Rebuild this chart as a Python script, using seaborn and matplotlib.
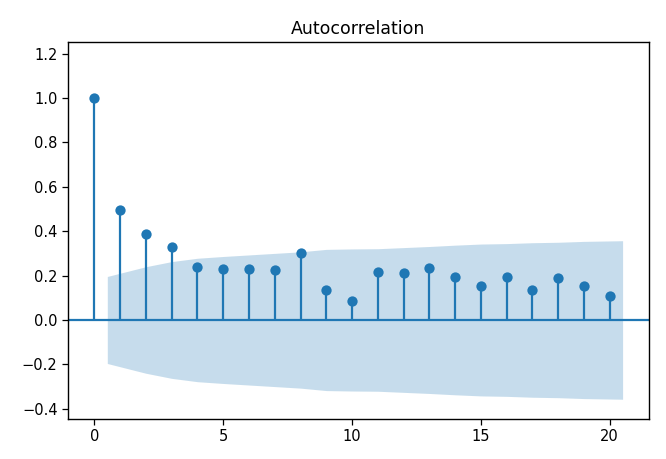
import matplotlib
matplotlib.use("Agg")
import matplotlib.pyplot as plt
import seaborn as sns
import numpy as np
import pandas as pd

# Data
lags = list(range(0, 21))
acf_values = [1.0, 0.495, 0.385, 0.33, 0.24, 0.23, 0.23, 0.225, 0.30, 0.135,
              0.087, 0.217, 0.21, 0.233, 0.195, 0.155, 0.193, 0.133, 0.19, 0.155, 0.11]
# confidence band half-width for lags 1..20
band_halfwidth = [0.196, 0.240, 0.263, 0.278, 0.286, 0.293, 0.300, 0.307, 0.318, 0.320,
                  0.321, 0.326, 0.331, 0.337, 0.342, 0.344, 0.348, 0.350, 0.354, 0.357]
band_x = [0.5] + list(range(2, 20)) + [20.5]
title = "Autocorrelation"
xticks = [0, 5, 10, 15, 20]
yticks = [-0.4, -0.2, 0.0, 0.2, 0.4, 0.6, 0.8, 1.0, 1.2]

df = pd.DataFrame({"lag": lags, "acf": acf_values})
band = np.array(band_halfwidth)

sns.set_style("ticks")
plt.rcParams["font.family"] = ["DejaVu Sans"]
plt.rcParams["axes.edgecolor"] = "black"
plt.rcParams["text.color"] = "black"
plt.rcParams["xtick.color"] = "black"
plt.rcParams["ytick.color"] = "black"
plt.rcParams["axes.labelcolor"] = "black"

fig = plt.figure(figsize=(6.66, 4.59), dpi=100)
ax = fig.add_axes([68 / 666, 1 - 419 / 459, (649 - 68) / 666, (419 - 42) / 459])

c0 = "#1f77b4"
ax.vlines(df["lag"], 0, df["acf"], color=c0, linewidth=1.6)
ax.axhline(0, color=c0, linewidth=1.6)
sns.scatterplot(data=df, x="lag", y="acf", ax=ax, color=c0, s=55, edgecolor=c0, linewidth=0, zorder=3)
ax.fill_between(band_x, -band, band, color=c0, alpha=0.25, linewidth=0)

ax.set_xlim(-1.025, 21.525)
ax.set_ylim(-0.446, 1.252)
ax.set_xticks(xticks)
ax.set_yticks(yticks)
ax.set_yticklabels([f"{v:.1f}".replace("-", "\u2212") for v in yticks])
ax.set_xlabel("")
ax.set_ylabel("")
ax.set_title(title, fontsize=12.5)
ax.tick_params(labelsize=10.5, length=4, width=0.9, direction="out")
for s in ax.spines.values():
    s.set_visible(True)
    s.set_linewidth(1.0)

fig.savefig("out.png", dpi=100)
